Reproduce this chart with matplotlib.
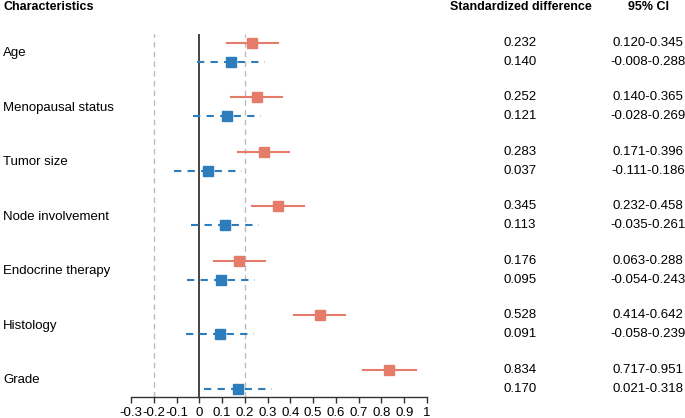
import matplotlib
matplotlib.use("Agg")
import matplotlib.pyplot as plt

plt.rcParams['font.family'] = ['Liberation Sans', 'DejaVu Sans']

characteristics = ["Age", "Menopausal status", "Tumor size", "Node involvement",
                   "Endocrine therapy", "Histology", "Grade"]
red_est = [0.232, 0.252, 0.283, 0.345, 0.176, 0.528, 0.834]
red_lo = [0.120, 0.140, 0.171, 0.232, 0.063, 0.414, 0.717]
red_hi = [0.345, 0.365, 0.396, 0.458, 0.288, 0.642, 0.951]
blue_est = [0.140, 0.121, 0.037, 0.113, 0.095, 0.091, 0.170]
blue_lo = [-0.008, -0.028, -0.111, -0.035, -0.054, -0.058, 0.021]
blue_hi = [0.288, 0.269, 0.186, 0.261, 0.243, 0.239, 0.318]
xticks = [-0.3, -0.2, -0.1, 0, 0.1, 0.2, 0.3, 0.4, 0.5, 0.6, 0.7, 0.8, 0.9, 1]
xticklabels = ["-0.3", "-0.2", "-0.1", "0", "0.1", "0.2", "0.3", "0.4", "0.5",
               "0.6", "0.7", "0.8", "0.9", "1"]

RED = '#E47C69'
BLUE = '#2D7DBD'
FS = 9
W, H = 685, 418
fig = plt.figure(figsize=(W / 100, H / 100), dpi=100)
ax = fig.add_axes([131 / W, 21 / H, 296 / W, 363 / H])

step = 54.5 / 19.0
red_y = [step * i for i in range(len(characteristics))]
blue_y = [step * i + 1 for i in range(len(characteristics))]
ytop = -9 / 19.0
ybot = blue_y[-1] + 8 / 19.0
ax.set_ylim(ybot, ytop)
ax.set_xlim(-0.3, 1.0)

ax.axvline(0, color='#444444', lw=1.4, zorder=1)
for v in (-0.2, 0.2):
    ax.axvline(v, color='#BBBBBB', lw=1.0, ls=(0, (4, 3)), zorder=1)

for i in range(len(characteristics)):
    ax.plot([red_lo[i], red_hi[i]], [red_y[i]] * 2, color=RED, lw=1.5, zorder=2)
    ax.plot([blue_lo[i], blue_hi[i]], [blue_y[i]] * 2, color=BLUE, lw=1.5,
            ls=(0, (3.5, 3)), zorder=2)
ax.plot(red_est, red_y, 's', color=RED, ms=7.5, zorder=3, mec=RED)
ax.plot(blue_est, blue_y, 's', color=BLUE, ms=7.5, zorder=3, mec=BLUE)

for s in ('top', 'right', 'left'):
    ax.spines[s].set_visible(False)
ax.spines['bottom'].set_color('#333333')
ax.spines['bottom'].set_linewidth(1.0)
ax.set_yticks([])
ax.set_xticks(xticks)
ax.set_xticklabels(xticklabels, fontsize=9.5)
ax.tick_params(axis='x', length=4, width=1, color='#333333', pad=3)

def fy(ydata):
    return ax.transData.transform((0, ydata))[1] / H

fig.text(3 / W, 1 - 7 / H, "Characteristics", fontsize=FS, fontweight='bold',
         va='center', ha='left')
fig.text(521 / W, 1 - 7 / H, "Standardized difference", fontsize=FS,
         fontweight='bold', va='center', ha='center')
fig.text(649 / W, 1 - 7 / H, "95% CI", fontsize=FS, fontweight='bold',
         va='center', ha='center')

for i, name in enumerate(characteristics):
    fig.text(3 / W, fy((red_y[i] + blue_y[i]) / 2) - 1 / H, name, fontsize=FS + 0.5,
             va='center', ha='left')
    fig.text(520 / W, fy(red_y[i]), f"{red_est[i]:.3f}", fontsize=FS + 0.5,
             va='center', ha='center')
    fig.text(520 / W, fy(blue_y[i]), f"{blue_est[i]:.3f}", fontsize=FS + 0.5,
             va='center', ha='center')
    fig.text(648 / W, fy(red_y[i]), f"{red_lo[i]:.3f}-{red_hi[i]:.3f}",
             fontsize=FS + 0.5, va='center', ha='center')
    fig.text(648 / W, fy(blue_y[i]), f"{blue_lo[i]:.3f}-{blue_hi[i]:.3f}",
             fontsize=FS + 0.5, va='center', ha='center')

fig.savefig("out.png", dpi=100)
